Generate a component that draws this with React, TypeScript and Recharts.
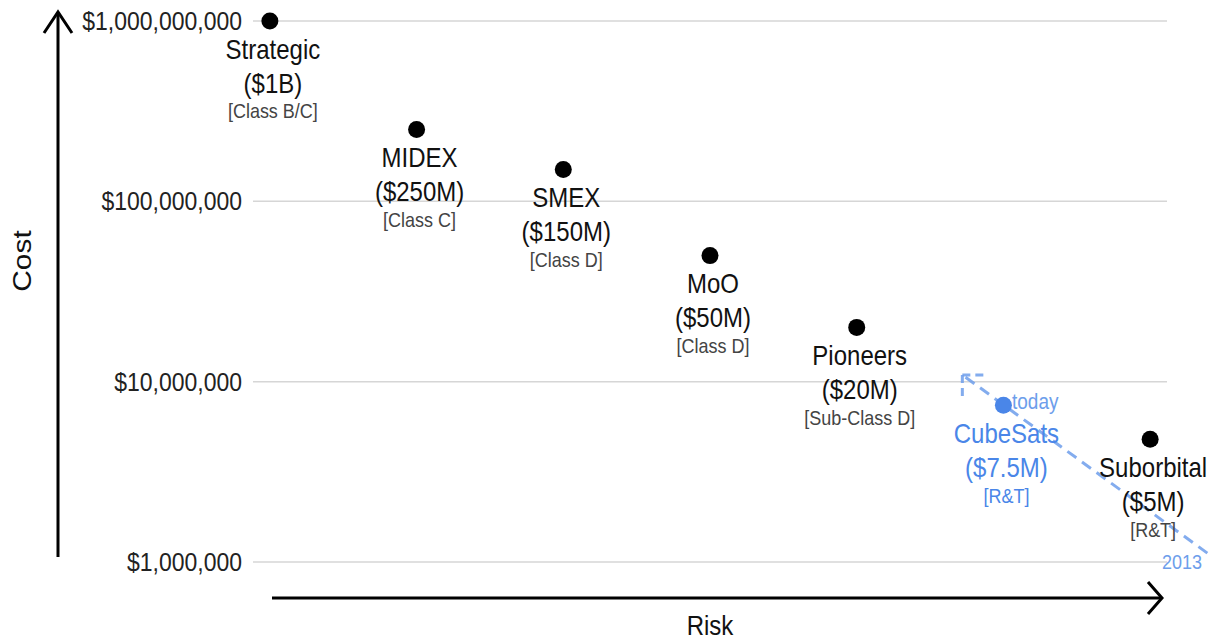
import React from 'react';
import {
  ScatterChart,
  Scatter,
  XAxis,
  YAxis,
  CartesianGrid,
  ReferenceLine,
  Cell,
  Customized,
} from 'recharts';

// mission classes, left (low risk) to right (high risk)
const missions = ['Strategic', 'MIDEX', 'SMEX', 'MoO', 'Pioneers', 'CubeSats', 'Suborbital'];
const costLabels = ['($1B)', '($250M)', '($150M)', '($50M)', '($20M)', '($7.5M)', '($5M)'];
const classLabels = ['[Class B/C]', '[Class C]', '[Class D]', '[Class D]', '[Sub-Class D]', '[R&T]', '[R&T]'];
const riskRank = [1, 2, 3, 4, 5, 6, 7];
const costUsd = [1e9, 2.5e8, 1.5e8, 5e7, 2e7, 7.4e6, 4.8e6];

const costTicks = [1e6, 1e7, 1e8, 1e9];

// 2013 -> today trend arrow (data coordinates)
const trendFrom = { x: 7.39, y: 1.12e6 };
const trendTo = { x: 5.72, y: 1.09e7 };
const trendHeadX = 5.87;
const trendHeadY = 8.2e6;

const highlight = 'CubeSats';

const data = riskRank.map((r, i) => ({
  risk: r,
  cost: costUsd[i],
  name: missions[i],
  costLabel: costLabels[i],
  classLabel: classLabels[i],
}));

const FONT = '"Liberation Sans", Arial, sans-serif';
const BLUE = '#4a86e8';
const LIGHT_BLUE = '#6d9eeb';
const STRETCH = 1.15; // source text is a bit taller than plain Arial

// text with a slight vertical stretch
const Txt = ({ x, y, size, fill, anchor = 'middle', children }: any) => (
  <text
    transform={`translate(${x} ${y}) scale(1 ${STRETCH})`}
    textAnchor={anchor}
    dominantBaseline="central"
    fontSize={size}
    fill={fill}
    fontFamily={FONT}
  >
    {children}
  </text>
);

const fmtUsd = (v: number) => '$' + Math.round(v).toLocaleString('en-US');

const CostTick = (props: any) => {
  const { x, y, payload } = props;
  return (
    <Txt x={x} y={y} size={23} fill="#222" anchor="end">
      {fmtUsd(payload.value)}
    </Txt>
  );
};

const MissionDot = (props: any) => {
  const { cx, cy, payload } = props;
  const isHi = payload.name === highlight;
  const main = isHi ? BLUE : '#111';
  const sub = isHi ? BLUE : '#444';
  return (
    <g>
      <circle cx={cx} cy={cy} r={8.5} fill={isHi ? BLUE : '#000'} />
      <Txt x={cx + 3} y={cy + 28} size={24} fill={main}>{payload.name}</Txt>
      <Txt x={cx + 3} y={cy + 62} size={24} fill={main}>{payload.costLabel}</Txt>
      <Txt x={cx + 3} y={cy + 90} size={18} fill={sub}>{payload.classLabel}</Txt>
    </g>
  );
};

// axis arrows and titles drawn as plain svg decoration
const Decor = () => (
  <g>
    <line x1={58} y1={557} x2={58} y2={12} stroke="#000" strokeWidth={3} />
    <polyline points="44,33 58,12 72,33" fill="none" stroke="#000" strokeWidth={3} />
    <line x1={272} y1={598} x2={1160} y2={598} stroke="#000" strokeWidth={3} />
    <polyline points="1148,582 1162,598 1148,614" fill="none" stroke="#000" strokeWidth={3} />
    <text
      transform={`translate(22 261) rotate(-90) scale(${STRETCH} 1)`}
      textAnchor="middle"
      dominantBaseline="central"
      fontSize={26}
      fill="#111"
      fontFamily={FONT}
    >
      Cost
    </text>
    <Txt x={710} y={625} size={24} fill="#111">Risk</Txt>
    <Txt x={1012} y={401} size={19} fill={LIGHT_BLUE} anchor="start">today</Txt>
    <Txt x={1162} y={562} size={18} fill={LIGHT_BLUE} anchor="start">2013</Txt>
  </g>
);

export default function App() {
  return (
    <div style={{ position: 'absolute', left: 0, top: 0, width: 1210, height: 642, background: '#fff' }}>
      <ScatterChart width={1210} height={642} margin={{ top: 21, right: 43, bottom: 80, left: 0 }}>
        <CartesianGrid vertical={false} stroke="#d6d6d6" strokeWidth={1.5} />
        <XAxis type="number" dataKey="risk" domain={[0.885, 7.115]} hide />
        <YAxis
          type="number"
          dataKey="cost"
          scale="log"
          domain={[1e6, 1e9]}
          ticks={costTicks}
          width={253}
          axisLine={false}
          tickLine={false}
          tickSize={0}
          tickMargin={11}
          tick={<CostTick />}
        />
        <ReferenceLine
          segment={[trendFrom, trendTo]}
          stroke={LIGHT_BLUE}
          strokeWidth={3}
          strokeDasharray="11 7"
          strokeOpacity={0.85}
          ifOverflow="visible"
        />
        <ReferenceLine
          segment={[trendTo, { x: trendHeadX, y: trendTo.y }]}
          stroke={LIGHT_BLUE}
          strokeWidth={3}
          strokeDasharray="8 5"
          strokeOpacity={0.85}
          ifOverflow="visible"
        />
        <ReferenceLine
          segment={[trendTo, { x: trendTo.x, y: trendHeadY }]}
          stroke={LIGHT_BLUE}
          strokeWidth={3}
          strokeDasharray="8 5"
          strokeOpacity={0.85}
          ifOverflow="visible"
        />
        <Scatter data={data} shape={MissionDot} isAnimationActive={false}>
          {data.map((d) => (
            <Cell key={d.name} fill={d.name === highlight ? BLUE : '#000'} />
          ))}
        </Scatter>
        <Customized component={Decor} />
      </ScatterChart>
    </div>
  );
}
